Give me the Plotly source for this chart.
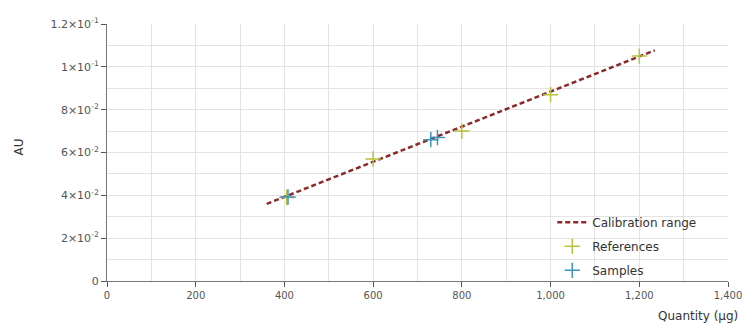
import plotly.graph_objects as go

# Data
cal_x = [360, 1235]
cal_y = [0.0360, 0.1077]
ref_x = [405, 600, 800, 1000, 1200]
ref_y = [0.0390, 0.0570, 0.0700, 0.0870, 0.1050]
sam_x = [408, 730, 745]
sam_y = [0.0392, 0.0660, 0.0670]
x_ticks = [0, 200, 400, 600, 800, 1000, 1200, 1400]
x_labels = ["0", "200", "400", "600", "800", "1,000", "1,200", "1,400"]
y_ticks = [0, 0.02, 0.04, 0.06, 0.08, 0.10, 0.12]
y_labels = ["0", "2×10<sup>-2</sup>", "4×10<sup>-2</sup>", "6×10<sup>-2</sup>",
            "8×10<sup>-2</sup>", "1×10<sup>-1</sup>", "1.2×10<sup>-1</sup>"]

fig = go.Figure()
fig.add_trace(go.Scatter(x=cal_x, y=cal_y, mode="lines", name="Calibration range",
                         legendgroup="a",
                         line=dict(color="#8a2a2a", width=2.5, dash="5px,3px")))
fig.add_trace(go.Scatter(x=ref_x, y=ref_y, mode="markers", name="References",
                         legendgroup="b",
                         marker=dict(symbol="cross-thin", size=11,
                                     line=dict(color="#b8c43a", width=1.5))))
fig.add_trace(go.Scatter(x=sam_x, y=sam_y, mode="markers", name="Samples",
                         legendgroup="c",
                         marker=dict(symbol="cross-thin", size=11,
                                     line=dict(color="#3d97bd", width=1.5))))

grid = "#e3e3e3"
fig.update_layout(
    width=743, height=327,
    margin=dict(l=107, r=15, t=24, b=46),
    paper_bgcolor="white", plot_bgcolor="white",
    font=dict(family="DejaVu Sans", color="#444", size=10),
    showlegend=True,
    legend=dict(x=0.717, y=-0.015, xanchor="left", yanchor="bottom",
                bgcolor="rgba(255,255,255,0)", font=dict(size=12, color="#333"),
                itemwidth=30, tracegroupgap=5),
    xaxis=dict(range=[0, 1400], tickvals=x_ticks, ticktext=x_labels,
               automargin=False,
               showgrid=True, gridcolor=grid, gridwidth=1,
               minor=dict(dtick=100, showgrid=True, gridcolor=grid, tick0=0),
               showline=True, linecolor="#777", linewidth=1,
               ticks="outside", ticklen=5, tickcolor="#555",
               zeroline=False, tickfont=dict(size=10, color="#555")),
    yaxis=dict(range=[0, 0.12], tickvals=y_ticks, ticktext=y_labels,
               automargin=False,
               showgrid=True, gridcolor=grid, gridwidth=1,
               minor=dict(dtick=0.01, showgrid=True, gridcolor=grid, tick0=0),
               showline=True, linecolor="#777", linewidth=1,
               ticks="outside", ticklen=5, tickcolor="#555",
               zeroline=False, tickfont=dict(size=11, color="#555")),
    annotations=[
        dict(text="Quantity (µg)", xref="paper", yref="paper", x=1, y=0,
             xanchor="right", yanchor="top", xshift=12, yshift=-26,
             showarrow=False, font=dict(size=12, color="#333")),
        dict(text="AU", xref="paper", yref="paper", x=0, y=0.5,
             xanchor="center", yanchor="middle", xshift=-89, yshift=5,
             textangle=-90, showarrow=False, font=dict(size=12, color="#333")),
    ],
)
fig.write_html("out.html", config={"displayModeBar": False},
               post_script="document.body.style.margin='0';document.body.style.overflow='hidden';")
